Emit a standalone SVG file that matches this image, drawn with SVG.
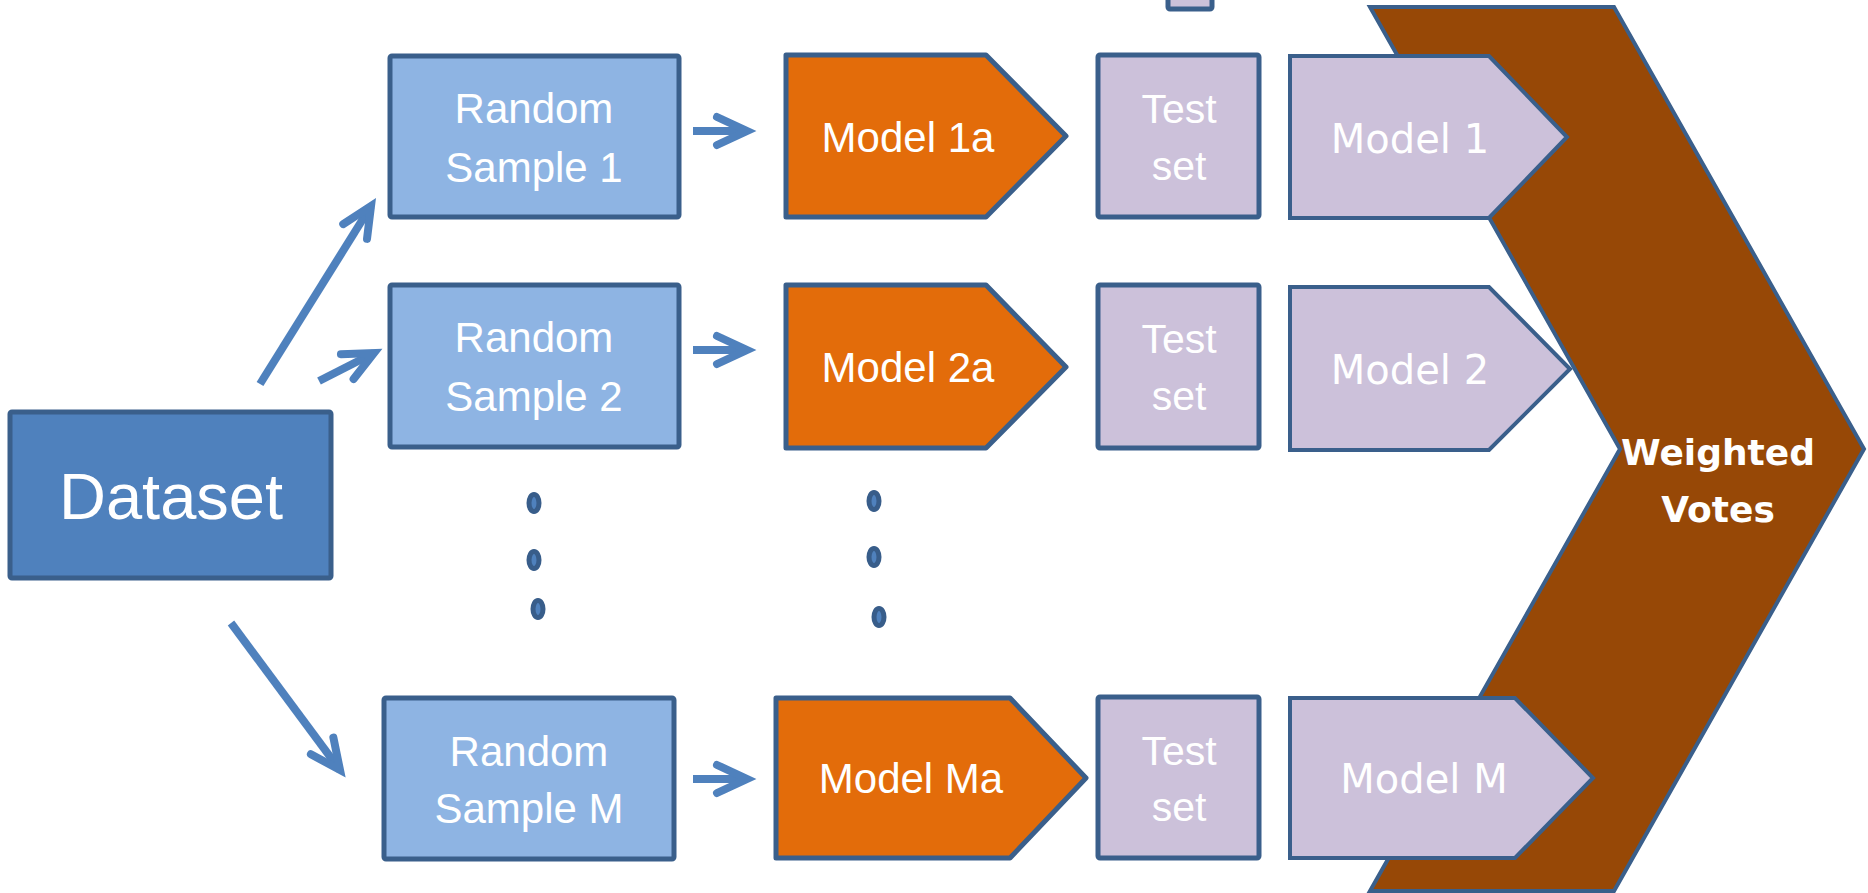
<svg xmlns="http://www.w3.org/2000/svg" width="1868" height="893" viewBox="0 0 1868 893">
<defs>
<style>
.bx{stroke:#3A5F8B;stroke-width:5;stroke-linejoin:round}
.ds{fill:#4F81BD}
.rs{fill:#8EB4E3}
.md{fill:#E36C0A}
.ts{fill:#CCC1DA}
.lv{fill:#CCC1DA;stroke:#3A5F8B;stroke-width:4;stroke-linejoin:miter}
.t{font-family:"Liberation Sans",Arial,sans-serif;fill:#FFFFFF;text-anchor:middle}
.t2{font-family:"DejaVu Sans",Verdana,sans-serif;fill:#FFFFFF;text-anchor:middle}
.ar{stroke:#4F81BD;stroke-width:8;fill:none;stroke-linecap:butt}
.dot{fill:#4F81BD;stroke:#385D8A;stroke-width:5}
</style>
<marker id="ah" markerUnits="userSpaceOnUse" markerWidth="60" markerHeight="60" viewBox="-40 -30 60 60" refX="0" refY="0" orient="auto" overflow="visible">
<path d="M-30,-14 L0,0 L-30,14" fill="none" stroke="#4F81BD" stroke-width="8" stroke-linecap="round" stroke-linejoin="miter"/>
</marker>
</defs>
<rect width="1868" height="893" fill="#FFFFFF"/>

<g id="votes">
<path d="M1370,7 L1614,7 L1864,449 L1614,891 L1370,891 L1620,449 Z" fill="#974806" stroke="#3A5F8B" stroke-width="4" stroke-linejoin="miter"/>
<text class="t2" x="1718" y="465" font-size="36" font-weight="bold">Weighted</text>
<text class="t2" x="1718" y="522" font-size="36" font-weight="bold">Votes</text>
</g>

<g id="topbox">
<rect class="bx ts" x="1168" y="-10" width="44" height="19" rx="2"/>
</g>

<g id="dataset">
<rect class="bx ds" x="10" y="412" width="321" height="166" rx="2"/>
<text class="t" x="171" y="519" font-size="65">Dataset</text>
</g>

<g id="sample1">
<rect class="bx rs" x="390" y="56" width="289" height="161" rx="2"/>
<text class="t" x="534" y="123" font-size="42">Random</text>
<text class="t" x="534" y="182" font-size="42">Sample 1</text>
</g>
<g id="sample2">
<rect class="bx rs" x="390" y="285" width="289" height="162" rx="2"/>
<text class="t" x="534" y="352" font-size="42">Random</text>
<text class="t" x="534" y="411" font-size="42">Sample 2</text>
</g>
<g id="sampleM">
<rect class="bx rs" x="384" y="698" width="290" height="161" rx="2"/>
<text class="t" x="529" y="766" font-size="42">Random</text>
<text class="t" x="529" y="823" font-size="42">Sample M</text>
</g>

<g id="model1a">
<path class="bx md" d="M786,55 H986 L1066,136 L986,217 H786 Z"/>
<text class="t" x="908" y="152" font-size="42">Model 1a</text>
</g>
<g id="model2a">
<path class="bx md" d="M786,285 H986 L1066,367 L986,448 H786 Z"/>
<text class="t" x="908" y="382" font-size="42">Model 2a</text>
</g>
<g id="modelMa">
<path class="bx md" d="M776,698 H1010 L1086,778 L1010,858 H776 Z"/>
<text class="t" x="911" y="793" font-size="42">Model Ma</text>
</g>

<g id="test1">
<rect class="bx ts" x="1098" y="55" width="161" height="162" rx="2"/>
<text class="t" x="1179" y="123" font-size="41">Test</text>
<text class="t" x="1179" y="180" font-size="41">set</text>
</g>
<g id="test2">
<rect class="bx ts" x="1098" y="285" width="161" height="163" rx="2"/>
<text class="t" x="1179" y="353" font-size="41">Test</text>
<text class="t" x="1179" y="410" font-size="41">set</text>
</g>
<g id="testM">
<rect class="bx ts" x="1098" y="697" width="161" height="161" rx="2"/>
<text class="t" x="1179" y="765" font-size="41">Test</text>
<text class="t" x="1179" y="821" font-size="41">set</text>
</g>

<g id="model1">
<path class="lv" d="M1290,56 H1489 L1567,137 L1489,218 H1290 Z"/>
<text class="t2" x="1410" y="153" font-size="40">Model 1</text>
</g>
<g id="model2">
<path class="lv" d="M1290,287 H1489 L1570,369 L1489,450 H1290 Z"/>
<text class="t2" x="1410" y="384" font-size="40">Model 2</text>
</g>
<g id="modelM">
<path class="lv" d="M1290,698 H1515 L1593,778 L1515,858 H1290 Z"/>
<text class="t2" x="1424" y="793" font-size="40">Model M</text>
</g>

<g id="ellipsis">
<ellipse class="dot" cx="534" cy="503" rx="5" ry="8.5"/>
<ellipse class="dot" cx="534" cy="560" rx="5" ry="8.5"/>
<ellipse class="dot" cx="538" cy="609" rx="5" ry="8.5"/>
<ellipse class="dot" cx="874" cy="501" rx="5" ry="8.5"/>
<ellipse class="dot" cx="874" cy="557" rx="5" ry="8.5"/>
<ellipse class="dot" cx="879" cy="617" rx="5" ry="8.5"/>
</g>

<g id="connectors">
<line class="ar" x1="260" y1="384" x2="371" y2="206" marker-end="url(#ah)"/>
<line class="ar" x1="319" y1="381" x2="374" y2="353" marker-end="url(#ah)"/>
<line class="ar" x1="231" y1="623" x2="340" y2="770" marker-end="url(#ah)"/>
<line class="ar" x1="693" y1="131" x2="747" y2="131" marker-end="url(#ah)"/>
<line class="ar" x1="693" y1="350" x2="747" y2="350" marker-end="url(#ah)"/>
<line class="ar" x1="693" y1="779" x2="747" y2="779" marker-end="url(#ah)"/>
</g>
</svg>
